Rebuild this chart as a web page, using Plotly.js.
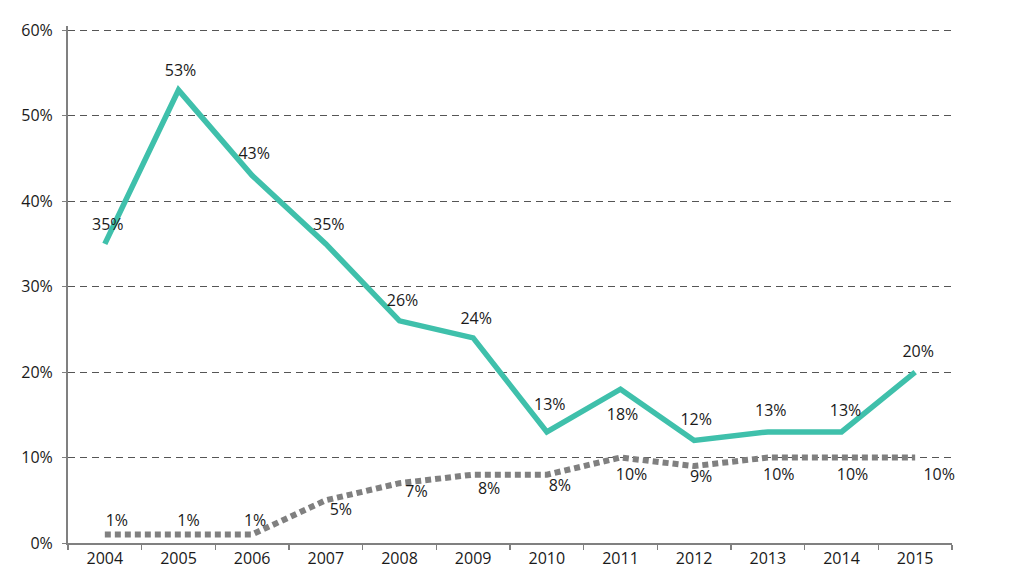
<!DOCTYPE html>
<html><head><meta charset="utf-8">
<script src="https://cdn.plot.ly/plotly-3.0.1.min.js"></script>
<style>html,body{margin:0;padding:0;background:#fff}#chart{width:1024px;height:570px}</style>
</head><body><div id="chart"></div>
<script>
const years = ['2004','2005','2006','2007','2008','2009','2010','2011','2012','2013','2014','2015'];
const tealValues = [35,53,43,35,26,24,13,18,12,13,13,20];
const grayValues = [1,1,1,5,7,8,8,10,9,10,10,10];
// label offsets in pixels (x right, y up)
const tealDx = [3,2,2,3,3,3,3,2,2,3,4,3];
const tealDy = [18,18,21,18,19,18,26,-27,19,20,20,19];
const grayDx = [12,10,3,15,17,16,13,11,7,11,11,24];
const grayDy = [12,12,12,-11,-10,-15,-12,-18,-12,-18,-18,-18];
const yTicks = [0,10,20,30,40,50,60];

const W = 1024, H = 570;
const M = {l:68, r:72, t:26, b:27};
const yMax = 60.5;
const pxPerX = (W - M.l - M.r) / years.length;
const pxPerY = (H - M.t - M.b) / yMax;

const pct = v => v + '%';
const font = {family:'Open Sans, DejaVu Sans, sans-serif', size:16, color:'#1a1a1a'};

const idx = years.map((_, i) => i);
const traces = [
 {x:years, y:grayValues, type:'scatter', mode:'lines',
  line:{color:'#808080', width:6, dash:'6px,4px'}, hoverinfo:'skip'},
 {x:years, y:tealValues, type:'scatter', mode:'lines',
  line:{color:'#3fc0ab', width:5.5}, hoverinfo:'skip'},
 {x:idx.map(i => i + tealDx[i]/pxPerX), y:tealValues.map((v,i) => v + tealDy[i]/pxPerY),
  xaxis:'x2', type:'scatter', mode:'text', text:tealValues.map(pct), textposition:'middle center',
  textfont:font, cliponaxis:false, hoverinfo:'skip'},
 {x:idx.map(i => i + grayDx[i]/pxPerX), y:grayValues.map((v,i) => v + grayDy[i]/pxPerY),
  xaxis:'x2', type:'scatter', mode:'text', text:grayValues.map(pct), textposition:'middle center',
  textfont:font, cliponaxis:false, hoverinfo:'skip'}
];

const layout = {
 width:W, height:H, showlegend:false,
 margin:M,
 paper_bgcolor:'#fff', plot_bgcolor:'#fff',
 font:font,
 xaxis:{type:'category', range:[-0.5,11.5], showgrid:false, zeroline:false,
  showline:true, linecolor:'#808080', linewidth:2,
  ticks:'outside', tickson:'boundaries', ticklen:5, tickcolor:'#808080', tickwidth:1.5,
  tickfont:font, fixedrange:true},
 xaxis2:{overlaying:'x', type:'linear', range:[-0.5,11.5], visible:false, fixedrange:true},
 yaxis:{range:[0,yMax], tickvals:yTicks, ticktext:yTicks.map(pct), showgrid:true,
  gridcolor:'#555', griddash:'7px,5px', gridwidth:1, zeroline:false,
  showline:true, linecolor:'#808080', linewidth:2, ticks:'outside', ticklen:4, tickcolor:'#808080',
  tickfont:font, ticklabelstandoff:6, fixedrange:true}
};
Plotly.newPlot('chart', traces, layout, {displayModeBar:false, staticPlot:true});
</script></body></html>
